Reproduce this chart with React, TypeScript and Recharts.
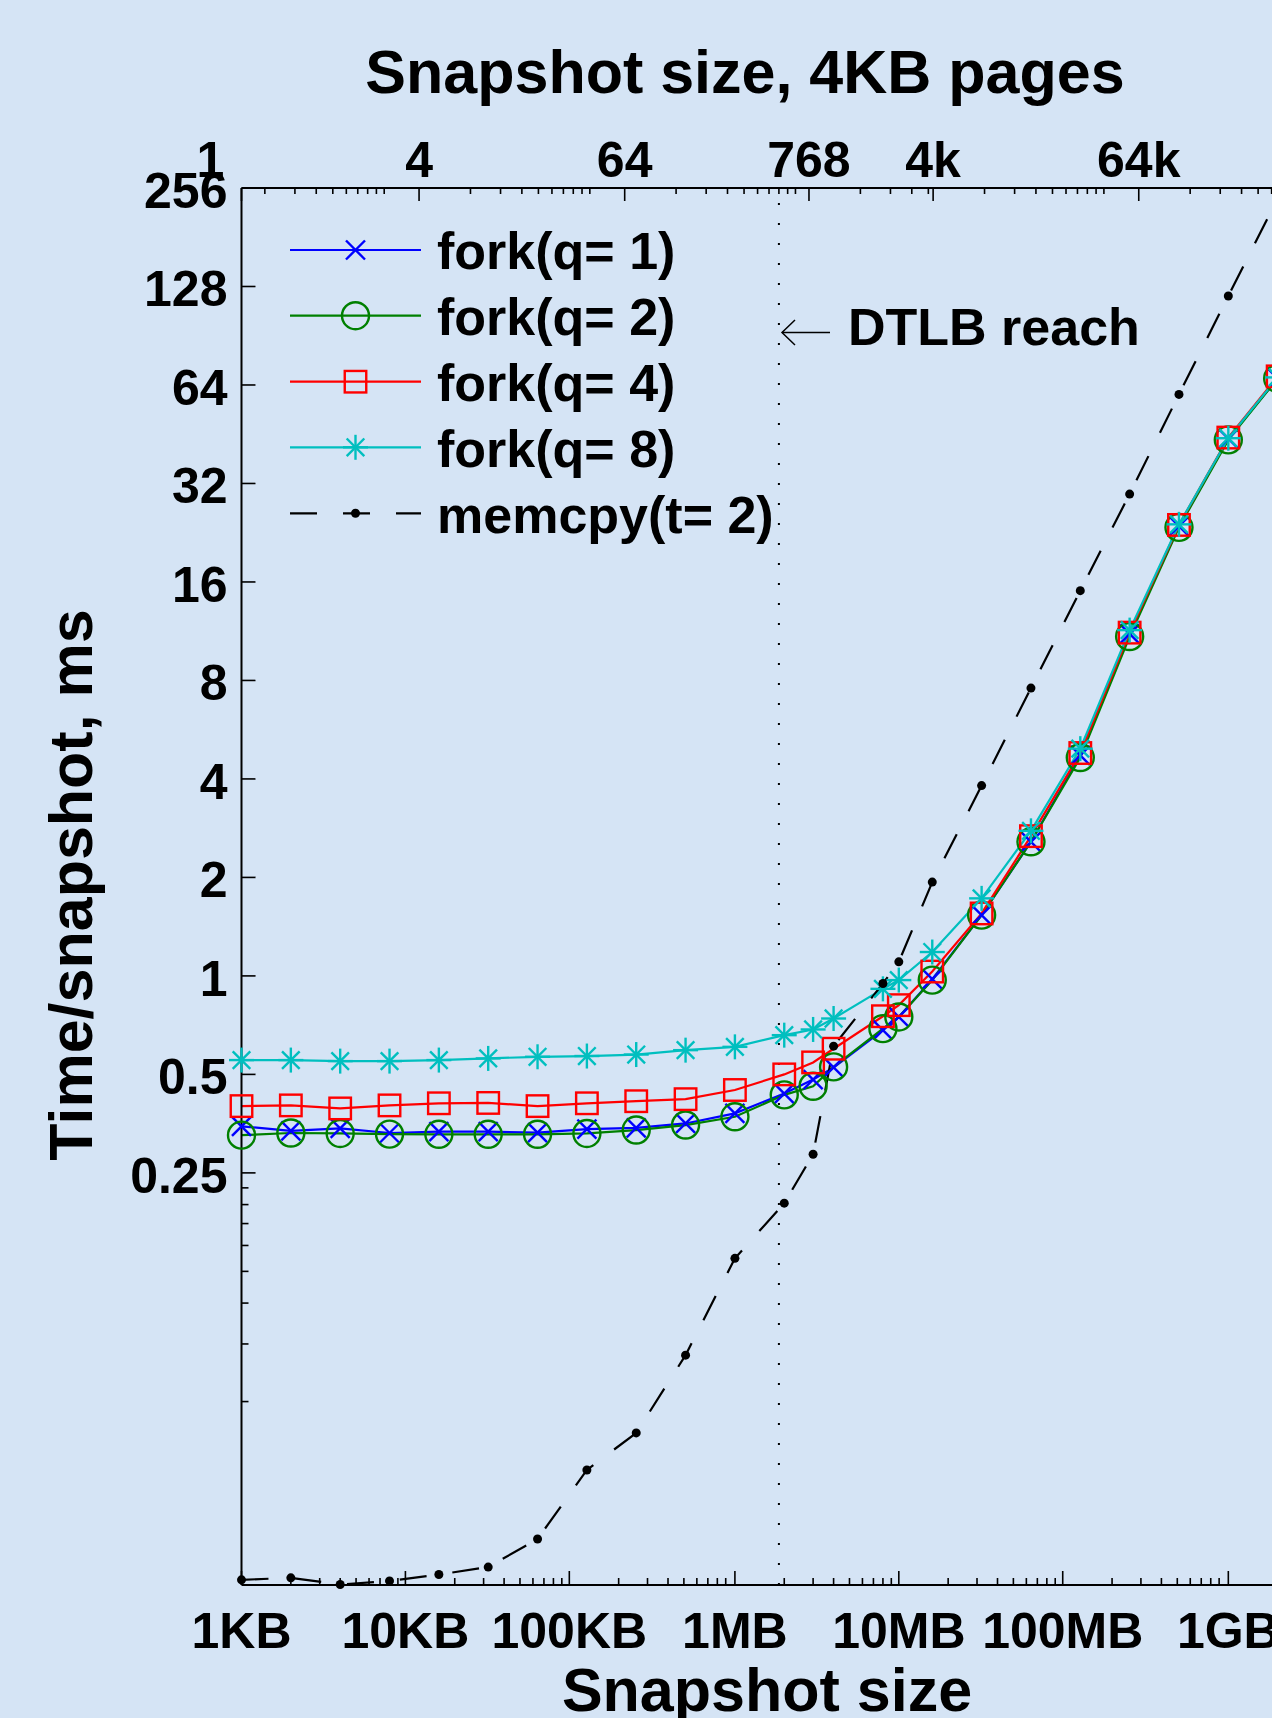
import React from 'react';
import { LineChart, Line, XAxis, YAxis, ReferenceLine } from 'recharts';

// snapshot sizes in KB (x axis, log scale)
const sizesKB = [1, 2, 4, 8, 16, 32, 64, 128, 256, 512, 1024, 2048, 3072, 4096, 8192, 10240, 16384, 32768, 65536, 131072, 262144, 524288, 1048576, 2097152];

// time per snapshot, ms
const forkQ1 = [0.347, 0.336, 0.342, 0.331, 0.334, 0.334, 0.332, 0.34, 0.343, 0.354, 0.38, 0.437, 0.482, 0.525, 0.683, 0.749, 0.977, 1.534, 2.57, 4.72, 11.1, 23.7, 43.9, 67];
const forkQ2 = [0.326, 0.331, 0.33, 0.3285, 0.328, 0.328, 0.328, 0.33, 0.338, 0.35, 0.371, 0.433, 0.46, 0.527, 0.69, 0.749, 0.971, 1.534, 2.57, 4.65, 10.9, 23.5, 43.5, 67];
const forkQ4 = [0.4, 0.402, 0.3935, 0.402, 0.408, 0.409, 0.4, 0.408, 0.414, 0.42, 0.448, 0.5, 0.544, 0.599, 0.753, 0.814, 1.031, 1.552, 2.674, 4.8, 11.2, 23.9, 44.2, 68];
const forkQ8 = [0.553, 0.553, 0.549, 0.549, 0.553, 0.5595, 0.566, 0.569, 0.575, 0.593, 0.607, 0.659, 0.686, 0.741, 0.913, 0.971, 1.183, 1.726, 2.776, 4.95, 11.4, 24, 44, 67.5];
const memcpyT2 = [0.01426, 0.01446, 0.0138, 0.01415, 0.0148, 0.0156, 0.019, 0.0309, 0.0401, 0.0693, 0.137, 0.202, 0.285, 0.61, 0.948, 1.104, 1.935, 3.816, 7.58, 15.05, 29.7, 59.9, 119.7, 238];

// bottom axis
const xDomain = [1, 4194304];
const xMajor = [1, 10, 100, 1024, 10240, 102400, 1048576];
const xLabels = ['1KB', '10KB', '100KB', '1MB', '10MB', '100MB', '1GB'];

// top axis (4KB pages)
const pageDomain = [0.365, 829500];
const pageMajor = [0.365, 4, 64, 768, 4096, 65536];
const pageLabels = ['1', '4', '64', '768', '4k', '64k'];
const pageMinorBase = [0.25, 4, 64, 768, 4096, 65536];

// left axis
const yDomain = [0.01375, 256];
const yMajor = [0.25, 0.5, 1, 2, 4, 8, 16, 32, 64, 128, 256];
const yMinor = [0.05, 0.075, 0.1, 0.125, 0.15, 0.175, 0.2, 0.225];

const dtlbReachKB = 1900;

const data = sizesKB.map((kb, i) => ({
  kb,
  pages: kb / 4,
  q1: forkQ1[i],
  q2: forkQ2[i],
  q4: forkQ4[i],
  q8: forkQ8[i],
  memcpy: memcpyT2[i],
}));

const xMinor: number[] = [];
xMajor.forEach((b) => {
  for (let k = 2; k <= 9; k++) if (b * k < xDomain[1]) xMinor.push(b * k);
});
const pageMinor: number[] = [];
pageMinorBase.forEach((b, i) => {
  const next = i + 1 < pageMajor.length ? pageMajor[i + 1] : pageDomain[1];
  for (let k = 2; k <= 10; k++) if (b * k < next && b * k > pageDomain[0]) pageMinor.push(b * k);
});

const BG = '#d5e4f5';
const FONT = '"Liberation Sans", Arial, Helvetica, sans-serif';

const series = [
  { key: 'q1', name: 'fork(q= 1)', color: '#0000ff', shape: 'x' },
  { key: 'q2', name: 'fork(q= 2)', color: '#008000', shape: 'o' },
  { key: 'q4', name: 'fork(q= 4)', color: '#ff0000', shape: 's' },
  { key: 'q8', name: 'fork(q= 8)', color: '#00bfbf', shape: '*' },
  { key: 'memcpy', name: 'memcpy(t= 2)', color: '#000000', shape: '.' },
];

const Marker = ({ shape, x, y, color }: { shape: string; x: number; y: number; color: string }) => {
  const sw = 2.4;
  if (shape === 'x') {
    const r = 9.5;
    return (
      <g stroke={color} strokeWidth={sw}>
        <line x1={x - r} y1={y - r} x2={x + r} y2={y + r} />
        <line x1={x - r} y1={y + r} x2={x + r} y2={y - r} />
      </g>
    );
  }
  if (shape === 'o') return <circle cx={x} cy={y} r={13.5} fill="none" stroke={color} strokeWidth={sw} />;
  if (shape === 's') return <rect x={x - 10.75} y={y - 10.75} width={21.5} height={21.5} fill="none" stroke={color} strokeWidth={sw} />;
  if (shape === '*') {
    const r = 12.5;
    const d = 8.8;
    return (
      <g stroke={color} strokeWidth={sw}>
        <line x1={x} y1={y - r} x2={x} y2={y + r} />
        <line x1={x - r} y1={y} x2={x + r} y2={y} />
        <line x1={x - d} y1={y - d} x2={x + d} y2={y + d} />
        <line x1={x - d} y1={y + d} x2={x + d} y2={y - d} />
      </g>
    );
  }
  return <circle cx={x} cy={y} r={4.5} fill={color} />;
};

const dotFor = (shape: string, color: string) => (p: any) => {
  const { cx, cy, index } = p;
  if (cx == null || cy == null) return <g key={`${shape}-${index}`} />;
  return (
    <g key={`${shape}-${index}`}>
      <Marker shape={shape} x={cx} y={cy} color={color} />
    </g>
  );
};

const YTick = (p: any) => {
  const { x, y, payload } = p;
  const major = yMajor.includes(payload.value);
  return (
    <g>
      <line x1={x} y1={y} x2={x + (major ? 14 : 7)} y2={y} stroke="#000" strokeWidth={1.6} />
      {major && (
        <text x={x - 14} y={y + 20} textAnchor="end" fontSize={50} fontWeight="bold" fontFamily={FONT} fill="#000">
          {String(payload.value)}
        </text>
      )}
    </g>
  );
};

const XTick = (p: any) => {
  const { x, y, payload } = p;
  const idx = xMajor.indexOf(payload.value);
  return (
    <g>
      <line x1={x} y1={y} x2={x} y2={y - (idx >= 0 ? 14 : 7)} stroke="#000" strokeWidth={1.6} />
      {idx >= 0 && (
        <text x={x} y={y + 63} textAnchor="middle" fontSize={50} fontWeight="bold" fontFamily={FONT} fill="#000">
          {xLabels[idx]}
        </text>
      )}
    </g>
  );
};

const PageTick = (p: any) => {
  const { x, y, payload } = p;
  const idx = pageMajor.indexOf(payload.value);
  return (
    <g>
      <line x1={x} y1={y} x2={x} y2={y + (idx >= 0 ? 13 : 6)} stroke="#000" strokeWidth={1.6} />
      {idx >= 0 && (
        <text
          x={idx === 0 ? x - 31 : x}
          y={y - 11}
          textAnchor="middle"
          fontSize={50}
          fontWeight="bold"
          fontFamily={FONT}
          fill="#000"
        >
          {pageLabels[idx]}
        </text>
      )}
    </g>
  );
};

const legendRows = [250, 315.7, 381.7, 447.3, 513.3];

const Overlay = () => (
  <svg width={1272} height={1718} style={{ position: 'absolute', left: 0, top: 0, pointerEvents: 'none' }}>
    <g fontFamily={FONT} fontWeight="bold" fill="#000">
      <text x={745} y={93} fontSize={61} textAnchor="middle">Snapshot size, 4KB pages</text>
      <text x={767} y={1711} fontSize={61} textAnchor="middle">Snapshot size</text>
      <text x={0} y={0} fontSize={61} textAnchor="middle" transform="translate(92 885) rotate(-90)">
        Time/snapshot, ms
      </text>
      <text x={848} y={345} fontSize={52}>DTLB reach</text>
    </g>
    <g stroke="#000" strokeWidth={1.5} fill="none">
      <line x1={782} y1={332.5} x2={830} y2={332.5} />
      <polyline points="795,320 782,332.5 795,345" />
    </g>
    {series.map((s, i) => {
      const y = legendRows[i];
      return (
        <g key={s.key}>
          <line
            x1={290}
            y1={y}
            x2={421}
            y2={y}
            stroke={s.color}
            strokeWidth={2.2}
            strokeDasharray={s.shape === '.' ? '27 26' : undefined}
          />
          <Marker shape={s.shape} x={355.5} y={y} color={s.color} />
          <text x={437} y={y + 19.3} fontSize={52} fontWeight="bold" fontFamily={FONT} fill="#000">
            {s.name}
          </text>
        </g>
      );
    })}
  </svg>
);

export default function App() {
  return (
    <div
      style={{
        position: 'absolute',
        left: 0,
        top: 0,
        width: 1272,
        height: 1718,
        overflow: 'hidden',
        background: BG,
      }}
    >
      <LineChart width={1340} height={1718} data={data} margin={{ top: 0, right: 13, bottom: 0, left: 0 }}>
        <XAxis
          dataKey="kb"
          type="number"
          scale="log"
          domain={xDomain}
          ticks={[...xMajor, ...xMinor]}
          interval={0}
          tick={<XTick />}
          tickLine={false}
          tickSize={0}
          tickMargin={0}
          height={133}
          axisLine={{ stroke: '#000', strokeWidth: 2 }}
        />
        <XAxis
          xAxisId="pages"
          dataKey="pages"
          orientation="top"
          type="number"
          scale="log"
          domain={pageDomain}
          allowDataOverflow
          ticks={[...pageMajor, ...pageMinor]}
          interval={0}
          tick={<PageTick />}
          tickLine={false}
          tickSize={0}
          tickMargin={0}
          height={188}
          axisLine={{ stroke: '#000', strokeWidth: 2 }}
        />
        <YAxis
          type="number"
          scale="log"
          domain={yDomain}
          ticks={[...yMajor, ...yMinor]}
          interval={0}
          tick={<YTick />}
          tickLine={false}
          tickSize={0}
          tickMargin={0}
          width={241.5}
          axisLine={{ stroke: '#000', strokeWidth: 2 }}
        />
        <ReferenceLine x={dtlbReachKB} stroke="#000" strokeWidth={2} strokeDasharray="2 18" />
        {/* hidden series that ties the page axis to the data */}
        <Line
          xAxisId="pages"
          dataKey="q1"
          stroke="none"
          dot={false}
          activeDot={false}
          legendType="none"
          isAnimationActive={false}
        />
        {series.map((s) => (
          <Line
            key={s.key}
            dataKey={s.key}
            type="linear"
            stroke={s.color}
            strokeWidth={2.2}
            strokeDasharray={s.shape === '.' ? '27 26' : undefined}
            dot={dotFor(s.shape, s.color)}
            activeDot={false}
            isAnimationActive={false}
          />
        ))}
      </LineChart>
      <Overlay />
    </div>
  );
}
